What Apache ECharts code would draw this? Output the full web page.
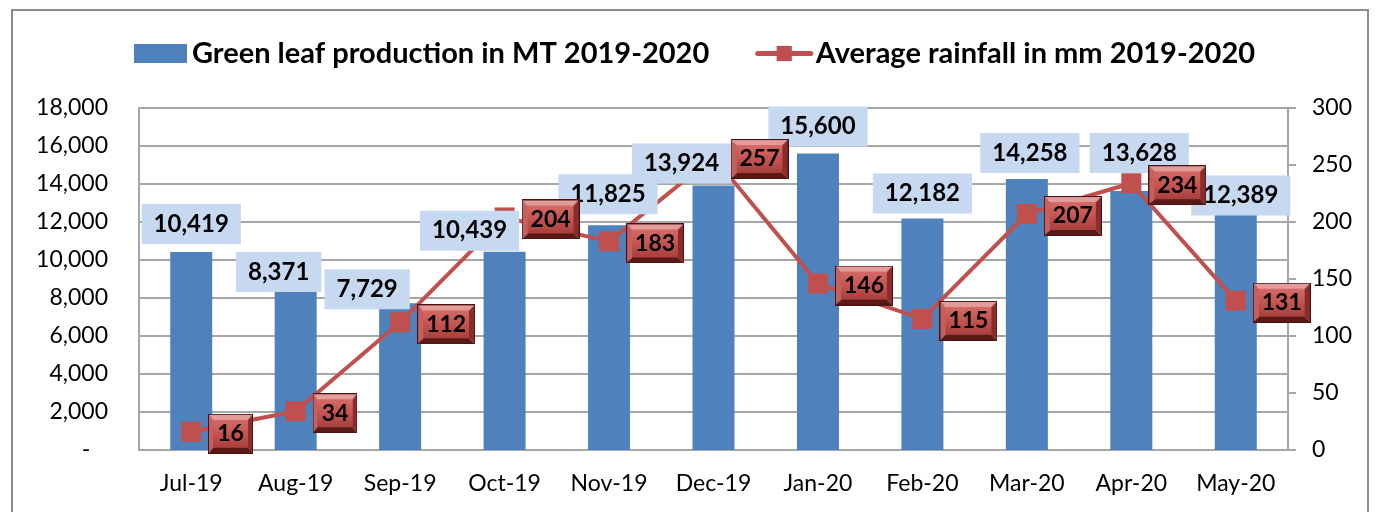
<!DOCTYPE html>
<html>
<head>
<meta charset="utf-8">
<script src="https://cdn.jsdelivr.net/npm/echarts@6/dist/echarts.min.js"></script>
<style>
  html, body { margin: 0; padding: 0; background: #fff; }
  #main { width: 1376px; height: 512px; position: relative; }
  #frame { position: absolute; left: 11px; top: 9px; width: 1358px; height: 520px; border: 2px solid #8c8c8c; box-sizing: border-box; pointer-events: none; }
</style>
</head>
<body>
<div id="main"></div>
<div id="frame"></div>
<script>
const months = ['Jul-19', 'Aug-19', 'Sep-19', 'Oct-19', 'Nov-19', 'Dec-19', 'Jan-20', 'Feb-20', 'Mar-20', 'Apr-20', 'May-20']
const production = [10419, 8371, 7729, 10439, 11825, 13924, 15600, 12182, 14258, 13628, 12389]
const rainfall = [16, 34, 112, 204, 183, 257, 146, 115, 207, 234, 131]

// hand-moved data labels in the original chart
const barLabelShift = [[0, 0], [-17, 9], [-33, 14], [-35, 7], [-1, -3], [-32, 6], [0, 1], [0, 3], [3, 2], [8, -10], [5, 9]]

const FONT = 'Lato'
const BAR_NAME = 'Green leaf production in MT 2019-2020'
const LINE_NAME = 'Average rainfall in mm 2019-2020'

// bevelled red box used behind rainfall labels
function bevel(w, h, b) {
  const c = document.createElement('canvas')
  c.width = w
  c.height = h
  const g = c.getContext('2d')
  const poly = (pts, col) => {
    g.beginPath()
    g.moveTo(pts[0][0], pts[0][1])
    pts.slice(1).forEach(p => g.lineTo(p[0], p[1]))
    g.closePath()
    g.fillStyle = col
    g.fill()
  }
  poly([[0, 0], [w, 0], [w - b, b], [b, b]], '#E39C9A')
  poly([[0, 0], [b, b], [b, h - b], [0, h]], '#C4615E')
  poly([[w, 0], [w, h], [w - b, h - b], [w - b, b]], '#8A2C2A')
  poly([[0, h], [b, h - b], [w - b, h - b], [w, h]], '#5A1816')
  const gr = g.createLinearGradient(0, b, 0, h - b)
  gr.addColorStop(0, '#D46B68')
  gr.addColorStop(0.6, '#C0504D')
  gr.addColorStop(1, '#A8403D')
  g.fillStyle = gr
  g.fillRect(b, b, w - 2 * b, h - 2 * b)
  g.strokeStyle = '#4a1210'
  g.lineWidth = 1
  g.strokeRect(0.5, 0.5, w - 1, h - 1)
  return c
}

const chart = echarts.init(document.getElementById('main'))
const fmt = v => v.toLocaleString('en-US')

chart.setOption({
  animation: false,
  textStyle: { fontFamily: FONT },
  legend: {
    left: 129,
    top: 34,
    itemWidth: 53,
    itemHeight: 19,
    itemGap: 46,
    textStyle: { fontFamily: FONT, fontSize: 29, fontWeight: 'bold', color: '#000' },
    data: [
      { name: BAR_NAME, icon: 'rect' },
      { name: LINE_NAME, lineStyle: { width: 5, cap: 'round' } }
    ]
  },
  grid: { left: 139, right: 88, top: 108, bottom: 62 },
  xAxis: {
    type: 'category',
    data: months,
    axisLine: { lineStyle: { color: '#A6A6A6', width: 2 } },
    axisTick: { show: false },
    axisLabel: { color: '#000', fontSize: 23, fontFamily: FONT, margin: 22 }
  },
  yAxis: [
    {
      type: 'value',
      min: 0,
      max: 18000,
      interval: 2000,
      axisLine: { show: true, lineStyle: { color: '#A6A6A6', width: 2 } },
      axisTick: { show: false },
      splitLine: { lineStyle: { color: '#A6A6A6', width: 2 } },
      axisLabel: {
        color: '#000', fontSize: 23, fontFamily: FONT, margin: 31,
        formatter: v => (v === 0 ? '-   ' : fmt(v))
      }
    },
    {
      type: 'value',
      min: 0,
      max: 300,
      interval: 50,
      position: 'right',
      axisLine: { show: true, lineStyle: { color: '#A6A6A6', width: 2 } },
      axisTick: { show: true, inside: false, length: 8, lineStyle: { color: '#A6A6A6', width: 2 } },
      splitLine: { show: false },
      axisLabel: { color: '#000', fontSize: 23, fontFamily: FONT, margin: 24 }
    }
  ],
  series: [
    {
      name: BAR_NAME,
      type: 'bar',
      barWidth: 42,
      barGap: '-100%',
      itemStyle: { color: '#4F81BD' },
      data: production,
      z: 2
    },
    {
      name: LINE_NAME,
      type: 'line',
      yAxisIndex: 1,
      data: rainfall,
      symbol: 'rect',
      symbolSize: 20,
      itemStyle: { color: '#C0504D' },
      lineStyle: { color: '#C0504D', width: 4 },
      z: 3
    },
    {
      // invisible copy of the bars, only to draw their labels above the line
      name: 'bar-labels',
      type: 'bar',
      barWidth: 42,
      barGap: '-100%',
      silent: true,
      itemStyle: { color: 'rgba(0,0,0,0)' },
      data: production.map((v, i) => ({ value: v, label: { offset: barLabelShift[i] } })),
      label: {
        show: true,
        position: 'top',
        distance: 8,
        formatter: p => fmt(p.value),
        color: '#000',
        fontFamily: FONT,
        fontSize: 24,
        fontWeight: 'bold',
        lineHeight: 24,
        backgroundColor: '#C6D9F1',
        padding: [8, 12]
      },
      z: 4
    },
    {
      // invisible copy of the line, its labels go on top of everything
      name: 'line-labels',
      type: 'line',
      yAxisIndex: 1,
      data: rainfall,
      silent: true,
      symbol: 'rect',
      symbolSize: 20,
      itemStyle: { color: 'rgba(0,0,0,0)' },
      lineStyle: { color: 'rgba(0,0,0,0)', width: 0 },
      label: {
        show: true,
        position: 'right',
        distance: 7,
        offset: [0, 2],
        color: '#000',
        fontFamily: FONT,
        fontSize: 23,
        fontWeight: 'bold',
        lineHeight: 24,
        backgroundColor: { image: bevel(57, 40, 6) },
        padding: [8, 9]
      },
      z: 5
    }
  ]
})
</script>
</body>
</html>
